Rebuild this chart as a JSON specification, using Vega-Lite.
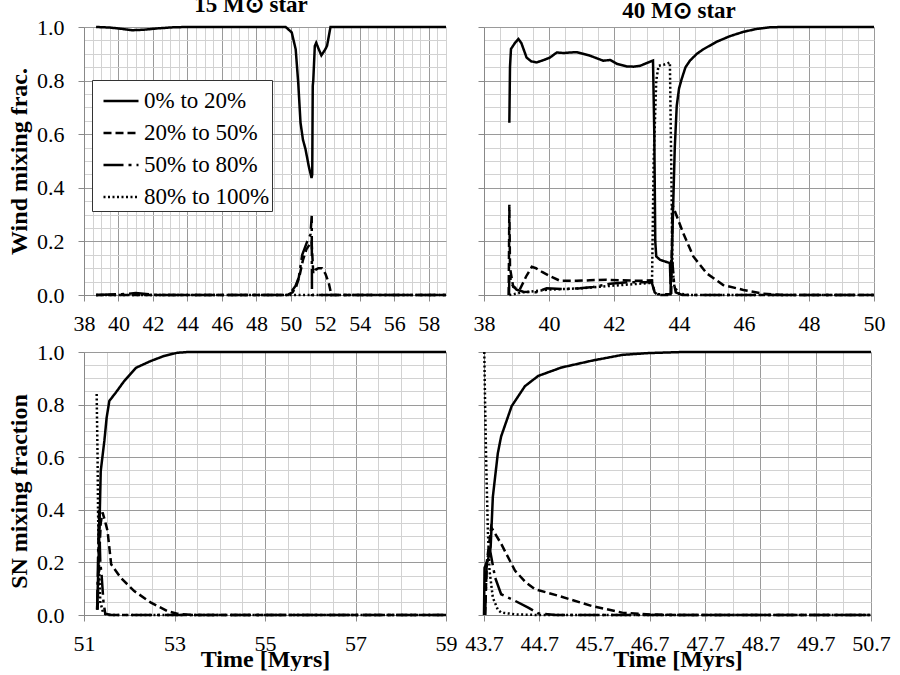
{
  "$schema": "https://vega.github.io/schema/vega-lite/v6.json",
  "padding": {"left": 6, "top": -6, "right": 5, "bottom": 0},
  "config": {
    "font": "'Liberation Serif', 'Times New Roman', serif",
    "view": {"stroke": null},
    "axis": {
      "labelFont": "'Liberation Serif', 'Times New Roman', serif",
      "labelFontSize": 22,
      "labelColor": "black",
      "labelFlush": false,
      "labelOverlap": false,
      "tickSize": 6,
      "tickColor": "#888888",
      "domainColor": "#888888",
      "gridWidth": 1,
      "titleFont": "'Liberation Serif', 'Times New Roman', serif",
      "titleFontSize": 24,
      "titleFontWeight": "bold",
      "titleColor": "black"
    },
    "axisX": {"labelPadding": 12},
    "axisY": {"labelPadding": 14},
    "title": {
      "font": "'Liberation Serif', 'Times New Roman', serif",
      "fontSize": 23,
      "fontWeight": "bold",
      "color": "black",
      "anchor": "middle",
      "frame": "group",
      "baseline": "alphabetic",
      "offset": -1
    }
  },
  "datasets": {
    "tl": [
      {"s": "0% to 20%", "t": 38.7, "v": 1}, {"s": "0% to 20%", "t": 39.5, "v": 0.998}, {"s": "0% to 20%", "t": 40.2, "v": 0.993},
      {"s": "0% to 20%", "t": 40.8, "v": 0.988}, {"s": "0% to 20%", "t": 41.5, "v": 0.99}, {"s": "0% to 20%", "t": 42.3, "v": 0.995},
      {"s": "0% to 20%", "t": 43.2, "v": 0.999}, {"s": "0% to 20%", "t": 44, "v": 1}, {"s": "0% to 20%", "t": 49.7, "v": 1},
      {"s": "0% to 20%", "t": 50.05, "v": 0.98}, {"s": "0% to 20%", "t": 50.28, "v": 0.917}, {"s": "0% to 20%", "t": 50.43, "v": 0.79},
      {"s": "0% to 20%", "t": 50.56, "v": 0.643}, {"s": "0% to 20%", "t": 50.7, "v": 0.58}, {"s": "0% to 20%", "t": 50.85, "v": 0.544},
      {"s": "0% to 20%", "t": 51.04, "v": 0.48}, {"s": "0% to 20%", "t": 51.2, "v": 0.437}, {"s": "0% to 20%", "t": 51.24, "v": 0.45},
      {"s": "0% to 20%", "t": 51.27, "v": 0.78}, {"s": "0% to 20%", "t": 51.3, "v": 0.8}, {"s": "0% to 20%", "t": 51.39, "v": 0.929},
      {"s": "0% to 20%", "t": 51.47, "v": 0.941}, {"s": "0% to 20%", "t": 51.6, "v": 0.92}, {"s": "0% to 20%", "t": 51.77, "v": 0.894},
      {"s": "0% to 20%", "t": 52, "v": 0.917}, {"s": "0% to 20%", "t": 52.1, "v": 0.93}, {"s": "0% to 20%", "t": 52.3, "v": 1},
      {"s": "0% to 20%", "t": 59, "v": 1},
      {"s": "20% to 50%", "t": 38.7, "v": 0}, {"s": "20% to 50%", "t": 49.8, "v": 0}, {"s": "20% to 50%", "t": 50.1, "v": 0.01},
      {"s": "20% to 50%", "t": 50.3, "v": 0.03}, {"s": "20% to 50%", "t": 50.5, "v": 0.07}, {"s": "20% to 50%", "t": 50.7, "v": 0.13},
      {"s": "20% to 50%", "t": 50.9, "v": 0.17}, {"s": "20% to 50%", "t": 51.1, "v": 0.19}, {"s": "20% to 50%", "t": 51.2, "v": 0.2},
      {"s": "20% to 50%", "t": 51.26, "v": 0.13}, {"s": "20% to 50%", "t": 51.3, "v": 0.08}, {"s": "20% to 50%", "t": 51.45, "v": 0.095},
      {"s": "20% to 50%", "t": 51.6, "v": 0.1}, {"s": "20% to 50%", "t": 51.8, "v": 0.1}, {"s": "20% to 50%", "t": 52, "v": 0.08},
      {"s": "20% to 50%", "t": 52.2, "v": 0.045}, {"s": "20% to 50%", "t": 52.35, "v": 0}, {"s": "20% to 50%", "t": 59, "v": 0},
      {"s": "50% to 80%", "t": 38.7, "v": 0}, {"s": "50% to 80%", "t": 40.5, "v": 0.004}, {"s": "50% to 80%", "t": 41, "v": 0.007},
      {"s": "50% to 80%", "t": 41.6, "v": 0.004}, {"s": "50% to 80%", "t": 42.2, "v": 0}, {"s": "50% to 80%", "t": 49.9, "v": 0},
      {"s": "50% to 80%", "t": 50.27, "v": 0.034}, {"s": "50% to 80%", "t": 50.46, "v": 0.065}, {"s": "50% to 80%", "t": 50.66, "v": 0.15},
      {"s": "50% to 80%", "t": 50.95, "v": 0.2}, {"s": "50% to 80%", "t": 51.14, "v": 0.226}, {"s": "50% to 80%", "t": 51.21, "v": 0.295},
      {"s": "50% to 80%", "t": 51.225, "v": 0}, {"s": "50% to 80%", "t": 59, "v": 0},
      {"s": "80% to 100%", "t": 38.7, "v": 0}, {"s": "80% to 100%", "t": 59, "v": 0}
    ],
    "tr": [
      {"s": "0% to 20%", "t": 38.78, "v": 0.643}, {"s": "0% to 20%", "t": 38.8, "v": 0.85}, {"s": "0% to 20%", "t": 38.83, "v": 0.918},
      {"s": "0% to 20%", "t": 38.95, "v": 0.94}, {"s": "0% to 20%", "t": 39.06, "v": 0.955}, {"s": "0% to 20%", "t": 39.15, "v": 0.94},
      {"s": "0% to 20%", "t": 39.31, "v": 0.886}, {"s": "0% to 20%", "t": 39.45, "v": 0.872}, {"s": "0% to 20%", "t": 39.62, "v": 0.868},
      {"s": "0% to 20%", "t": 39.8, "v": 0.875}, {"s": "0% to 20%", "t": 40.03, "v": 0.886}, {"s": "0% to 20%", "t": 40.24, "v": 0.905},
      {"s": "0% to 20%", "t": 40.45, "v": 0.903}, {"s": "0% to 20%", "t": 40.65, "v": 0.905}, {"s": "0% to 20%", "t": 40.86, "v": 0.906},
      {"s": "0% to 20%", "t": 41.05, "v": 0.9}, {"s": "0% to 20%", "t": 41.26, "v": 0.893}, {"s": "0% to 20%", "t": 41.5, "v": 0.882},
      {"s": "0% to 20%", "t": 41.67, "v": 0.874}, {"s": "0% to 20%", "t": 41.88, "v": 0.877}, {"s": "0% to 20%", "t": 42.1, "v": 0.862},
      {"s": "0% to 20%", "t": 42.39, "v": 0.853}, {"s": "0% to 20%", "t": 42.6, "v": 0.852}, {"s": "0% to 20%", "t": 42.8, "v": 0.855},
      {"s": "0% to 20%", "t": 43, "v": 0.865}, {"s": "0% to 20%", "t": 43.2, "v": 0.875}, {"s": "0% to 20%", "t": 43.24, "v": 0.6},
      {"s": "0% to 20%", "t": 43.27, "v": 0.2}, {"s": "0% to 20%", "t": 43.3, "v": 0.144}, {"s": "0% to 20%", "t": 43.42, "v": 0.131},
      {"s": "0% to 20%", "t": 43.72, "v": 0.119}, {"s": "0% to 20%", "t": 43.74, "v": 0.04}, {"s": "0% to 20%", "t": 43.77, "v": 0.1},
      {"s": "0% to 20%", "t": 43.82, "v": 0.33}, {"s": "0% to 20%", "t": 43.87, "v": 0.55}, {"s": "0% to 20%", "t": 43.93, "v": 0.705},
      {"s": "0% to 20%", "t": 44.0, "v": 0.77}, {"s": "0% to 20%", "t": 44.08, "v": 0.805}, {"s": "0% to 20%", "t": 44.2, "v": 0.85},
      {"s": "0% to 20%", "t": 44.34, "v": 0.875}, {"s": "0% to 20%", "t": 44.55, "v": 0.9}, {"s": "0% to 20%", "t": 44.75, "v": 0.917},
      {"s": "0% to 20%", "t": 45.16, "v": 0.945}, {"s": "0% to 20%", "t": 45.55, "v": 0.965}, {"s": "0% to 20%", "t": 45.98, "v": 0.982},
      {"s": "0% to 20%", "t": 46.4, "v": 0.993}, {"s": "0% to 20%", "t": 46.8, "v": 0.999},
      {"s": "0% to 20%", "t": 47.2, "v": 1}, {"s": "0% to 20%", "t": 50, "v": 1},
      {"s": "20% to 50%", "t": 38.76, "v": 0}, {"s": "20% to 50%", "t": 38.78, "v": 0.337}, {"s": "20% to 50%", "t": 38.8, "v": 0.1},
      {"s": "20% to 50%", "t": 38.9, "v": 0.03}, {"s": "20% to 50%", "t": 39.1, "v": 0.02}, {"s": "20% to 50%", "t": 39.3, "v": 0.07},
      {"s": "20% to 50%", "t": 39.47, "v": 0.105}, {"s": "20% to 50%", "t": 39.6, "v": 0.1}, {"s": "20% to 50%", "t": 39.8, "v": 0.085},
      {"s": "20% to 50%", "t": 40.03, "v": 0.07}, {"s": "20% to 50%", "t": 40.34, "v": 0.053}, {"s": "20% to 50%", "t": 40.85, "v": 0.053},
      {"s": "20% to 50%", "t": 41.26, "v": 0.055}, {"s": "20% to 50%", "t": 41.77, "v": 0.057}, {"s": "20% to 50%", "t": 42.18, "v": 0.055},
      {"s": "20% to 50%", "t": 42.8, "v": 0.053}, {"s": "20% to 50%", "t": 43.16, "v": 0.055}, {"s": "20% to 50%", "t": 43.25, "v": 0.01},
      {"s": "20% to 50%", "t": 43.35, "v": 0}, {"s": "20% to 50%", "t": 43.76, "v": 0}, {"s": "20% to 50%", "t": 43.8, "v": 0.337},
      {"s": "20% to 50%", "t": 43.85, "v": 0.32}, {"s": "20% to 50%", "t": 44.13, "v": 0.231}, {"s": "20% to 50%", "t": 44.44, "v": 0.144},
      {"s": "20% to 50%", "t": 44.85, "v": 0.081}, {"s": "20% to 50%", "t": 45.36, "v": 0.037}, {"s": "20% to 50%", "t": 45.98, "v": 0.019},
      {"s": "20% to 50%", "t": 46.6, "v": 0.005}, {"s": "20% to 50%", "t": 47.2, "v": 0}, {"s": "20% to 50%", "t": 50, "v": 0},
      {"s": "50% to 80%", "t": 38.77, "v": 0}, {"s": "50% to 80%", "t": 38.78, "v": 0.08}, {"s": "50% to 80%", "t": 38.85, "v": 0.04},
      {"s": "50% to 80%", "t": 39, "v": 0.02}, {"s": "50% to 80%", "t": 39.21, "v": 0.012}, {"s": "50% to 80%", "t": 39.6, "v": 0.01},
      {"s": "50% to 80%", "t": 39.93, "v": 0.025}, {"s": "50% to 80%", "t": 40.44, "v": 0.022}, {"s": "50% to 80%", "t": 40.95, "v": 0.025},
      {"s": "50% to 80%", "t": 41.36, "v": 0.03}, {"s": "50% to 80%", "t": 41.88, "v": 0.042}, {"s": "50% to 80%", "t": 42.49, "v": 0.048},
      {"s": "50% to 80%", "t": 43.16, "v": 0.048}, {"s": "50% to 80%", "t": 43.25, "v": 0.01}, {"s": "50% to 80%", "t": 43.35, "v": 0.003},
      {"s": "50% to 80%", "t": 43.74, "v": 0.003}, {"s": "50% to 80%", "t": 43.76, "v": 0.13}, {"s": "50% to 80%", "t": 43.8, "v": 0.12},
      {"s": "50% to 80%", "t": 43.85, "v": 0.04}, {"s": "50% to 80%", "t": 43.9, "v": 0.01}, {"s": "50% to 80%", "t": 44.1, "v": 0},
      {"s": "50% to 80%", "t": 50, "v": 0},
      {"s": "80% to 100%", "t": 38.78, "v": 0}, {"s": "80% to 100%", "t": 39.2, "v": 0.01}, {"s": "80% to 100%", "t": 40, "v": 0.02},
      {"s": "80% to 100%", "t": 41, "v": 0.025}, {"s": "80% to 100%", "t": 42, "v": 0.035}, {"s": "80% to 100%", "t": 43.1, "v": 0.045},
      {"s": "80% to 100%", "t": 43.17, "v": 0.05}, {"s": "80% to 100%", "t": 43.22, "v": 0.5}, {"s": "80% to 100%", "t": 43.3, "v": 0.8},
      {"s": "80% to 100%", "t": 43.37, "v": 0.855}, {"s": "80% to 100%", "t": 43.55, "v": 0.86}, {"s": "80% to 100%", "t": 43.72, "v": 0.868},
      {"s": "80% to 100%", "t": 43.76, "v": 0.5}, {"s": "80% to 100%", "t": 43.8, "v": 0.1}, {"s": "80% to 100%", "t": 43.86, "v": 0.03},
      {"s": "80% to 100%", "t": 44, "v": 0.005}, {"s": "80% to 100%", "t": 44.3, "v": 0}, {"s": "80% to 100%", "t": 50, "v": 0}
    ],
    "bl": [
      {"s": "0% to 20%", "t": 51.29, "v": 0.022}, {"s": "0% to 20%", "t": 51.32, "v": 0.2}, {"s": "0% to 20%", "t": 51.34, "v": 0.32},
      {"s": "0% to 20%", "t": 51.37, "v": 0.548}, {"s": "0% to 20%", "t": 51.45, "v": 0.662}, {"s": "0% to 20%", "t": 51.5, "v": 0.75},
      {"s": "0% to 20%", "t": 51.56, "v": 0.814}, {"s": "0% to 20%", "t": 51.7, "v": 0.845}, {"s": "0% to 20%", "t": 51.89, "v": 0.89},
      {"s": "0% to 20%", "t": 52.15, "v": 0.94}, {"s": "0% to 20%", "t": 52.48, "v": 0.966}, {"s": "0% to 20%", "t": 52.77, "v": 0.985},
      {"s": "0% to 20%", "t": 53.06, "v": 0.997}, {"s": "0% to 20%", "t": 53.3, "v": 1}, {"s": "0% to 20%", "t": 59, "v": 1},
      {"s": "20% to 50%", "t": 51.3, "v": 0.02}, {"s": "20% to 50%", "t": 51.33, "v": 0.2}, {"s": "20% to 50%", "t": 51.37, "v": 0.35},
      {"s": "20% to 50%", "t": 51.41, "v": 0.39}, {"s": "20% to 50%", "t": 51.46, "v": 0.36}, {"s": "20% to 50%", "t": 51.52, "v": 0.32},
      {"s": "20% to 50%", "t": 51.6, "v": 0.193}, {"s": "20% to 50%", "t": 51.81, "v": 0.142}, {"s": "20% to 50%", "t": 52.11, "v": 0.091},
      {"s": "20% to 50%", "t": 52.48, "v": 0.047}, {"s": "20% to 50%", "t": 52.84, "v": 0.015}, {"s": "20% to 50%", "t": 53.06, "v": 0.005},
      {"s": "20% to 50%", "t": 53.4, "v": 0}, {"s": "20% to 50%", "t": 59, "v": 0},
      {"s": "50% to 80%", "t": 51.29, "v": 0.02}, {"s": "50% to 80%", "t": 51.33, "v": 0.4}, {"s": "50% to 80%", "t": 51.36, "v": 0.2},
      {"s": "50% to 80%", "t": 51.39, "v": 0.15}, {"s": "50% to 80%", "t": 51.43, "v": 0.05}, {"s": "50% to 80%", "t": 51.47, "v": 0.005},
      {"s": "50% to 80%", "t": 51.6, "v": 0}, {"s": "50% to 80%", "t": 59, "v": 0},
      {"s": "80% to 100%", "t": 51.28, "v": 0.84}, {"s": "80% to 100%", "t": 51.3, "v": 0.6}, {"s": "80% to 100%", "t": 51.31, "v": 0.4},
      {"s": "80% to 100%", "t": 51.33, "v": 0.2}, {"s": "80% to 100%", "t": 51.36, "v": 0.05}, {"s": "80% to 100%", "t": 51.42, "v": 0.01},
      {"s": "80% to 100%", "t": 51.5, "v": 0}, {"s": "80% to 100%", "t": 59, "v": 0}
    ],
    "br": [
      {"s": "0% to 20%", "t": 43.7, "v": 0}, {"s": "0% to 20%", "t": 43.71, "v": 0.18}, {"s": "0% to 20%", "t": 43.77, "v": 0.207},
      {"s": "0% to 20%", "t": 43.82, "v": 0.257}, {"s": "0% to 20%", "t": 43.86, "v": 0.449}, {"s": "0% to 20%", "t": 43.95, "v": 0.615},
      {"s": "0% to 20%", "t": 44.01, "v": 0.679}, {"s": "0% to 20%", "t": 44.2, "v": 0.794}, {"s": "0% to 20%", "t": 44.44, "v": 0.87},
      {"s": "0% to 20%", "t": 44.68, "v": 0.909}, {"s": "0% to 20%", "t": 45.1, "v": 0.941}, {"s": "0% to 20%", "t": 45.65, "v": 0.967},
      {"s": "0% to 20%", "t": 46.2, "v": 0.989}, {"s": "0% to 20%", "t": 46.68, "v": 0.996}, {"s": "0% to 20%", "t": 47.3, "v": 1},
      {"s": "0% to 20%", "t": 50.7, "v": 1},
      {"s": "20% to 50%", "t": 43.72, "v": 0}, {"s": "20% to 50%", "t": 43.75, "v": 0.2}, {"s": "20% to 50%", "t": 43.83, "v": 0.334},
      {"s": "20% to 50%", "t": 44.01, "v": 0.271}, {"s": "20% to 50%", "t": 44.26, "v": 0.169}, {"s": "20% to 50%", "t": 44.45, "v": 0.125},
      {"s": "20% to 50%", "t": 44.62, "v": 0.098}, {"s": "20% to 50%", "t": 45.05, "v": 0.073}, {"s": "20% to 50%", "t": 45.65, "v": 0.034},
      {"s": "20% to 50%", "t": 46.2, "v": 0.009}, {"s": "20% to 50%", "t": 46.7, "v": 0.002}, {"s": "20% to 50%", "t": 47.2, "v": 0},
      {"s": "20% to 50%", "t": 50.7, "v": 0},
      {"s": "50% to 80%", "t": 43.72, "v": 0}, {"s": "50% to 80%", "t": 43.75, "v": 0.2}, {"s": "50% to 80%", "t": 43.8, "v": 0.257},
      {"s": "50% to 80%", "t": 43.9, "v": 0.143}, {"s": "50% to 80%", "t": 44.01, "v": 0.079}, {"s": "50% to 80%", "t": 44.26, "v": 0.054},
      {"s": "50% to 80%", "t": 44.5, "v": 0.028}, {"s": "50% to 80%", "t": 44.68, "v": 0.006}, {"s": "50% to 80%", "t": 45, "v": 0},
      {"s": "50% to 80%", "t": 50.7, "v": 0},
      {"s": "80% to 100%", "t": 43.705, "v": 1}, {"s": "80% to 100%", "t": 43.72, "v": 0.8}, {"s": "80% to 100%", "t": 43.74, "v": 0.577},
      {"s": "80% to 100%", "t": 43.77, "v": 0.32}, {"s": "80% to 100%", "t": 43.8, "v": 0.169}, {"s": "80% to 100%", "t": 43.86, "v": 0.066},
      {"s": "80% to 100%", "t": 43.95, "v": 0.02}, {"s": "80% to 100%", "t": 44.01, "v": 0.009}, {"s": "80% to 100%", "t": 44.3, "v": 0.002},
      {"s": "80% to 100%", "t": 44.7, "v": 0}, {"s": "80% to 100%", "t": 50.7, "v": 0}
    ]
  },
  "columns": 2,
  "spacing": {"row": 57, "column": 38},
  "bounds": "flush",
  "align": "each",
  "resolve": {"scale": {"x": "independent", "y": "independent", "strokeDash": "independent"}, "legend": {"strokeDash": "independent"}},
  "concat": [
    {
      "width": 362,
      "height": 268,
      "title": {"text": "15 M⊙ star", "dx": -14},
      "data": {"name": "tl"},
      "mark": {"type": "line", "color": "black", "strokeWidth": 2.5},
      "encoding": {
        "x": {
          "field": "t", "type": "quantitative",
          "scale": {"domain": [38, 59], "nice": false, "zero": false},
          "axis": {
            "title": null,
            "values": [38, 38.5, 39, 39.5, 40, 40.5, 41, 41.5, 42, 42.5, 43, 43.5, 44, 44.5, 45, 45.5, 46, 46.5, 47, 47.5, 48, 48.5, 49, 49.5, 50, 50.5, 51, 51.5, 52, 52.5, 53, 53.5, 54, 54.5, 55, 55.5, 56, 56.5, 57, 57.5, 58, 58.5, 59],
            "labelExpr": "datum.value % 2 === 0 ? format(datum.value, 'd') : ''",
            "gridColor": {"condition": {"test": "datum.value % 2 === 0", "value": "#9a9a9a"}, "value": "#d2d2d2"},
            "tickOpacity": {"condition": {"test": "datum.value % 2 === 0", "value": 1}, "value": 0}
          }
        },
        "y": {
          "field": "v", "type": "quantitative",
          "scale": {"domain": [0, 1], "nice": false},
          "axis": {
            "title": "Wind mixing frac.",
            "titleX": -65,
            "titleBaseline": "middle",
            "values": [0, 0.05, 0.1, 0.15, 0.2, 0.25, 0.3, 0.35, 0.4, 0.45, 0.5, 0.55, 0.6, 0.65, 0.7, 0.75, 0.8, 0.85, 0.9, 0.95, 1],
            "labelExpr": "round(datum.value * 20) % 4 === 0 ? format(datum.value, '.1f') : ''",
            "gridColor": {"condition": {"test": "round(datum.value * 20) % 4 === 0", "value": "#9a9a9a"}, "value": "#d2d2d2"},
            "tickOpacity": {"condition": {"test": "round(datum.value * 20) % 4 === 0", "value": 1}, "value": 0}
          }
        },
        "strokeDash": {
          "field": "s", "type": "nominal",
          "scale": {"domain": ["0% to 20%", "20% to 50%", "50% to 80%", "80% to 100%"], "range": [[1, 0], [8, 4], [20, 5, 3, 5], [2, 2.5]]},
          "legend": {
            "title": null,
            "orient": "none",
            "legendX": 8,
            "legendY": 53,
            "symbolType": "stroke",
            "symbolSize": 1225,
            "symbolStrokeWidth": 2.5,
            "symbolStrokeColor": "black",
            "symbolOffset": 8,
            "labelFont": "'Liberation Serif', 'Times New Roman', serif",
            "labelFontSize": 23,
            "labelColor": "black",
            "labelLimit": 300,
            "labelOffset": 4,
            "rowPadding": 1,
            "padding": 2,
            "strokeColor": "#333333",
            "fillColor": "white"
          }
        }
      }
    },
    {
      "width": 390,
      "height": 268,
      "title": {"text": "40 M⊙ star"},
      "data": {"name": "tr"},
      "mark": {"type": "line", "color": "black", "strokeWidth": 2.5},
      "encoding": {
        "x": {
          "field": "t", "type": "quantitative",
          "scale": {"domain": [38, 50], "nice": false, "zero": false},
          "axis": {
            "title": null,
            "values": [38, 38.5, 39, 39.5, 40, 40.5, 41, 41.5, 42, 42.5, 43, 43.5, 44, 44.5, 45, 45.5, 46, 46.5, 47, 47.5, 48, 48.5, 49, 49.5, 50],
            "labelExpr": "datum.value % 2 === 0 ? format(datum.value, 'd') : ''",
            "gridColor": {"condition": {"test": "datum.value % 2 === 0", "value": "#9a9a9a"}, "value": "#d2d2d2"},
            "tickOpacity": {"condition": {"test": "datum.value % 2 === 0", "value": 1}, "value": 0}
          }
        },
        "y": {
          "field": "v", "type": "quantitative",
          "scale": {"domain": [0, 1], "nice": false},
          "axis": {
            "title": null,
            "labels": false,
            "values": [0, 0.05, 0.1, 0.15, 0.2, 0.25, 0.3, 0.35, 0.4, 0.45, 0.5, 0.55, 0.6, 0.65, 0.7, 0.75, 0.8, 0.85, 0.9, 0.95, 1],
            "gridColor": {"condition": {"test": "round(datum.value * 20) % 4 === 0", "value": "#9a9a9a"}, "value": "#d2d2d2"},
            "tickOpacity": {"condition": {"test": "round(datum.value * 20) % 4 === 0", "value": 1}, "value": 0}
          }
        },
        "strokeDash": {
          "field": "s", "type": "nominal",
          "scale": {"domain": ["0% to 20%", "20% to 50%", "50% to 80%", "80% to 100%"], "range": [[1, 0], [8, 4], [20, 5, 3, 5], [2, 2.5]]},
          "legend": null
        }
      }
    },
    {
      "width": 362,
      "height": 263,
      "data": {"name": "bl"},
      "mark": {"type": "line", "color": "black", "strokeWidth": 2.5},
      "encoding": {
        "x": {
          "field": "t", "type": "quantitative",
          "scale": {"domain": [51, 59], "nice": false, "zero": false},
          "axis": {
            "title": "Time [Myrs]",
            "titleY": 51,
            "titleBaseline": "alphabetic",
            "values": [51, 51.5, 52, 52.5, 53, 53.5, 54, 54.5, 55, 55.5, 56, 56.5, 57, 57.5, 58, 58.5, 59],
            "labelExpr": "(datum.value - 51) % 2 === 0 ? format(datum.value, 'd') : ''",
            "gridColor": {"condition": {"test": "(datum.value - 51) % 2 === 0", "value": "#9a9a9a"}, "value": "#d2d2d2"},
            "tickOpacity": {"condition": {"test": "(datum.value - 51) % 2 === 0", "value": 1}, "value": 0}
          }
        },
        "y": {
          "field": "v", "type": "quantitative",
          "scale": {"domain": [0, 1], "nice": false},
          "axis": {
            "title": "SN mixing fraction",
            "titleX": -65,
            "titleY": 139,
            "titleBaseline": "middle",
            "values": [0, 0.05, 0.1, 0.15, 0.2, 0.25, 0.3, 0.35, 0.4, 0.45, 0.5, 0.55, 0.6, 0.65, 0.7, 0.75, 0.8, 0.85, 0.9, 0.95, 1],
            "labelExpr": "round(datum.value * 20) % 4 === 0 ? format(datum.value, '.1f') : ''",
            "gridColor": {"condition": {"test": "round(datum.value * 20) % 4 === 0", "value": "#9a9a9a"}, "value": "#d2d2d2"},
            "tickOpacity": {"condition": {"test": "round(datum.value * 20) % 4 === 0", "value": 1}, "value": 0}
          }
        },
        "strokeDash": {
          "field": "s", "type": "nominal",
          "scale": {"domain": ["0% to 20%", "20% to 50%", "50% to 80%", "80% to 100%"], "range": [[1, 0], [8, 4], [20, 5, 3, 5], [2, 2.5]]},
          "legend": null
        }
      }
    },
    {
      "width": 387,
      "height": 263,
      "data": {"name": "br"},
      "mark": {"type": "line", "color": "black", "strokeWidth": 2.5},
      "encoding": {
        "x": {
          "field": "t", "type": "quantitative",
          "scale": {"domain": [43.7, 50.7], "nice": false, "zero": false},
          "axis": {
            "title": "Time [Myrs]",
            "titleY": 51,
            "titleBaseline": "alphabetic",
            "values": [43.7, 44.2, 44.7, 45.2, 45.7, 46.2, 46.7, 47.2, 47.7, 48.2, 48.7, 49.2, 49.7, 50.2, 50.7],
            "labelExpr": "round((datum.value - 43.7) * 2) % 2 === 0 ? format(datum.value, '.1f') : ''",
            "gridColor": {"condition": {"test": "round((datum.value - 43.7) * 2) % 2 === 0", "value": "#9a9a9a"}, "value": "#d2d2d2"},
            "tickOpacity": {"condition": {"test": "round((datum.value - 43.7) * 2) % 2 === 0", "value": 1}, "value": 0}
          }
        },
        "y": {
          "field": "v", "type": "quantitative",
          "scale": {"domain": [0, 1], "nice": false},
          "axis": {
            "title": null,
            "labels": false,
            "values": [0, 0.05, 0.1, 0.15, 0.2, 0.25, 0.3, 0.35, 0.4, 0.45, 0.5, 0.55, 0.6, 0.65, 0.7, 0.75, 0.8, 0.85, 0.9, 0.95, 1],
            "gridColor": {"condition": {"test": "round(datum.value * 20) % 4 === 0", "value": "#9a9a9a"}, "value": "#d2d2d2"},
            "tickOpacity": {"condition": {"test": "round(datum.value * 20) % 4 === 0", "value": 1}, "value": 0}
          }
        },
        "strokeDash": {
          "field": "s", "type": "nominal",
          "scale": {"domain": ["0% to 20%", "20% to 50%", "50% to 80%", "80% to 100%"], "range": [[1, 0], [8, 4], [20, 5, 3, 5], [2, 2.5]]},
          "legend": null
        }
      }
    }
  ]
}
